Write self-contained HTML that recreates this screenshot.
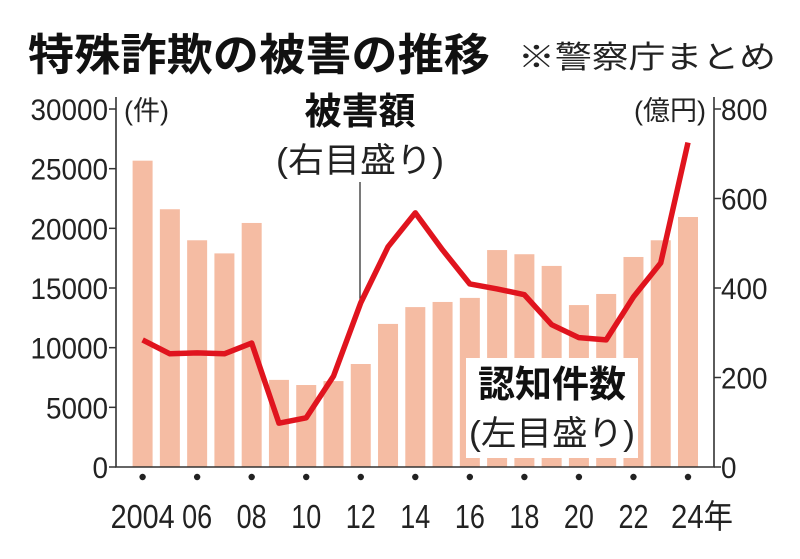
<!DOCTYPE html>
<html><head><meta charset="utf-8"><style>
body{margin:0;background:#fff;}
svg text{font-family:"Liberation Sans","Noto Sans CJK JP",sans-serif;}
</style></head><body>
<svg id="c" width="800" height="554" xmlns="http://www.w3.org/2000/svg">
<text x="28" y="70" font-size="44" font-weight="bold" fill="#111" textLength="462" lengthAdjust="spacingAndGlyphs">特殊詐欺の被害の推移</text>
<text x="518" y="68" font-size="31" fill="#222" textLength="258" lengthAdjust="spacingAndGlyphs">※警察庁まとめ</text>
<g id="plot"></g>
</svg>
<script>
const years=[2004,2005,2006,2007,2008,2009,2010,2011,2012,2013,2014,2015,2016,2017,2018,2019,2020,2021,2022,2023,2024];
const cases=[25670,21600,19000,17900,20450,7300,6870,7200,8630,11990,13400,13830,14170,18180,17830,16850,13570,14500,17600,19000,20950];
const damage=[284,253,255,253,277,98,110,203,367,492,568,485,409,398,385,318,289,284,380,456,725];
const leftTicks=[0,5000,10000,15000,20000,25000,30000];
const rightTicks=[0,200,400,600,800];
const xLabels=["2004","06","08","10","12","14","16","18","20","22","24年"];
const NS="http://www.w3.org/2000/svg";
const g=document.getElementById('plot');
const L=116,R=714,B=467,T=109;
const x=i=>142.6+i*27.27;
const yl=v=>B-(v/30000)*(B-T);
const yr=v=>B-(v/800)*(B-T);
function mk(t,a,p){const e=document.createElementNS(NS,t);for(const k in a)e.setAttribute(k,a[k]);(p||g).appendChild(e);return e;}
cases.forEach((v,i)=>{const r=mk('rect',{x:x(i)-10,y:yl(v),width:20,height:B-yl(v),fill:'#f5bca3'});

});
const box=mk('rect',{x:466,y:358,width:172,height:100,fill:'#fff'});


const t1=mk('text',{x:552,y:397,'font-size':37,'font-weight':'bold','text-anchor':'middle',fill:'#111'});t1.textContent='認知件数';


const t2=mk('text',{x:552,y:445,'font-size':34,'text-anchor':'middle',fill:'#222','textLength':166,'lengthAdjust':'spacingAndGlyphs'});t2.textContent='(左目盛り)';


const t3=mk('text',{x:360,y:124,'font-size':37,'font-weight':'bold','text-anchor':'middle',fill:'#111'});t3.textContent='被害額';


const t4=mk('text',{x:360,y:172,'font-size':34,'text-anchor':'middle',fill:'#222','textLength':168,'lengthAdjust':'spacingAndGlyphs'});t4.textContent='(右目盛り)';


const lead=mk('line',{x1:360,y1:182,x2:360,y2:yr(damage[8])+6,stroke:'#222','stroke-width':1.2});


const ax=mk('path',{d:`M${L},${T-12}V${B}H${R}V${T-12}`,fill:'none',stroke:'#333','stroke-width':1.6});


leftTicks.forEach(v=>{mk('line',{x1:L-7,y1:yl(v),x2:L,y2:yl(v),stroke:'#333','stroke-width':1.5});
const t=mk('text',{x:108,y:yl(v)+11,'font-size':30,'text-anchor':'end',fill:'#222','textLength':String(v).length*15.5,'lengthAdjust':'spacingAndGlyphs'});t.textContent=v;

});
rightTicks.forEach(v=>{mk('line',{x1:R,y1:yr(v),x2:R+7,y2:yr(v),stroke:'#333','stroke-width':1.5});
const t=mk('text',{x:721,y:yr(v)+11,'font-size':30,fill:'#222','textLength':String(v).length*15.5,'lengthAdjust':'spacingAndGlyphs'});t.textContent=v;

});
const u1=mk('text',{x:124,y:120,'font-size':27,fill:'#222'});u1.textContent='(件)';


const u2=mk('text',{x:706,y:120,'font-size':27,'text-anchor':'end',fill:'#222'});u2.textContent='(億円)';


const pl=mk('polyline',{points:damage.map((v,i)=>x(i)+','+yr(v)).join(' '),fill:'none',stroke:'#e0141e','stroke-width':5.5,'stroke-linejoin':'round'});


xLabels.forEach((s,k)=>{const i=k*2;
const d=mk('circle',{cx:x(i),cy:477,r:3.2,fill:'#222'});


const w=s.length===4?64:(s.length===3?62:30);
const t=mk('text',{x:x(i),y:528,'font-size':33,'text-anchor':'middle',fill:'#222','textLength':w,'lengthAdjust':'spacingAndGlyphs'});t.textContent=s;
if(k===10){t.setAttribute('x',x(i)+14);}

});
</script>
</body></html>
